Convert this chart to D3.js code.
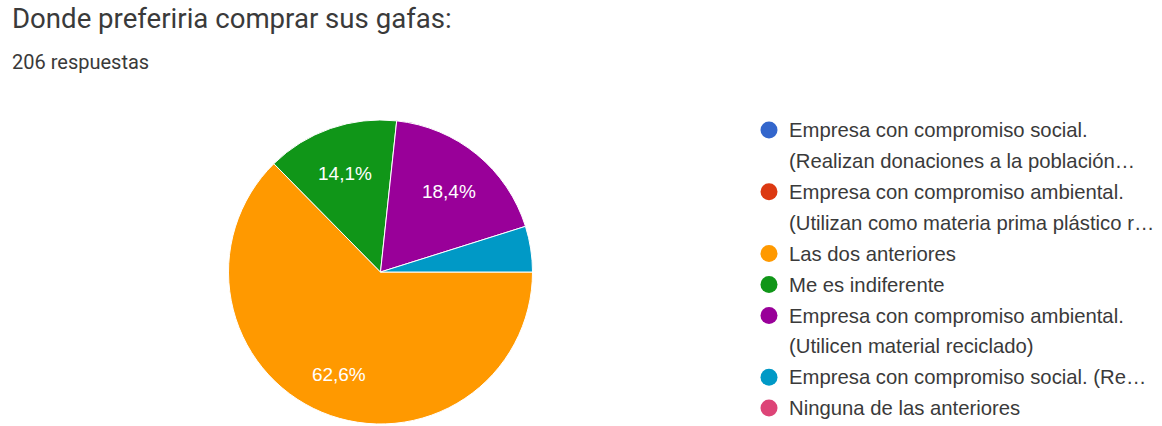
<!DOCTYPE html>
<html>
<head>
<meta charset="utf-8">
<script src="https://cdn.jsdelivr.net/npm/d3@7"></script>
<style>
  html, body { margin: 0; padding: 0; background: #fff; }
  svg { display: block; }
</style>
</head>
<body>
<svg id="chart" width="1162" height="426"></svg>
<script>
// Survey answers, in the order the form lists them
const categories = [
  ["Empresa con compromiso social.", "(Realizan donaciones a la población…"],
  ["Empresa con compromiso ambiental.", "(Utilizan como materia prima plástico r…"],
  ["Las dos anteriores"],
  ["Me es indiferente"],
  ["Empresa con compromiso ambiental.", "(Utilicen material reciclado)"],
  ["Empresa con compromiso social. (Re…"],
  ["Ninguna de las anteriores"]
];
const counts = [0, 0, 129, 29, 38, 10, 0];
const colors = ["#3366cc", "#dc3912", "#ff9900", "#109618", "#990099", "#0099c6", "#dd4477"];
const title = "Donde preferiria comprar sus gafas:";
const subtitle = "206 respuestas";

const svg = d3.select("#chart");
const total = d3.sum(counts);

// Header
svg.append("text")
  .attr("x", 12).attr("y", 28)
  .attr("font-family", "Roboto, sans-serif")
  .attr("font-size", 27.6)
  .attr("fill", "#3a3a3a")
  .text(title);
svg.append("text")
  .attr("x", 12).attr("y", 69)
  .attr("font-family", "Roboto, sans-serif")
  .attr("font-size", 20)
  .attr("fill", "#3a3a3a")
  .text(subtitle);

// Pie
const cx = 380.5, cy = 272, r = 152;
const rows = categories.map((c, i) => ({ lines: c, value: counts[i], color: colors[i], idx: i }));
const pie = d3.pie().sort(null).value(d => d.value)
  .startAngle(Math.PI / 2).endAngle(Math.PI / 2 + 2 * Math.PI);
const arcs = pie(rows).filter(a => a.value > 0);
const arc = d3.arc().innerRadius(0).outerRadius(r);
const labelArc = d3.arc().innerRadius(r * 0.71).outerRadius(r * 0.71);

const g = svg.append("g").attr("transform", `translate(${cx},${cy})`);
g.selectAll("path.slice").data(arcs).join("path")
  .attr("class", "slice")
  .attr("d", arc)
  .attr("fill", d => d.data.color)
  .attr("stroke", "#fff")
  .attr("stroke-width", 1);

const fmt = v => (Math.round(v * 1000) / 10).toFixed(1).replace(".", ",") + "%";
g.selectAll("text.pct").data(arcs.filter(a => a.value / total > 0.08)).join("text")
  .attr("class", "pct")
  .attr("x", d => labelArc.centroid(d)[0])
  .attr("y", d => labelArc.centroid(d)[1] + 3)
  .attr("dy", "0.35em")
  .attr("text-anchor", "middle")
  .attr("font-family", "'Liberation Sans', Arial, sans-serif")
  .attr("font-size", 19)
  .attr("fill", "#fff")
  .text(d => fmt(d.value / total));

// Legend
const legendX = 769, legendTop = 130, rowH = 30.9;
let line = 0;
const legend = svg.append("g");
rows.forEach(d => {
  const y0 = legendTop + line * rowH;
  legend.append("circle")
    .attr("cx", legendX).attr("cy", y0).attr("r", 8.5)
    .attr("fill", d.color);
  d.lines.forEach((t, k) => {
    legend.append("text")
      .attr("x", legendX + 20)
      .attr("y", y0 + k * rowH)
      .attr("dy", "0.35em")
      .attr("font-family", "'Liberation Sans', Arial, sans-serif")
      .attr("font-size", 20.3)
      .attr("fill", "#3a3a3a")
      .text(t);
  });
  line += d.lines.length;
});
</script>
</body>
</html>
